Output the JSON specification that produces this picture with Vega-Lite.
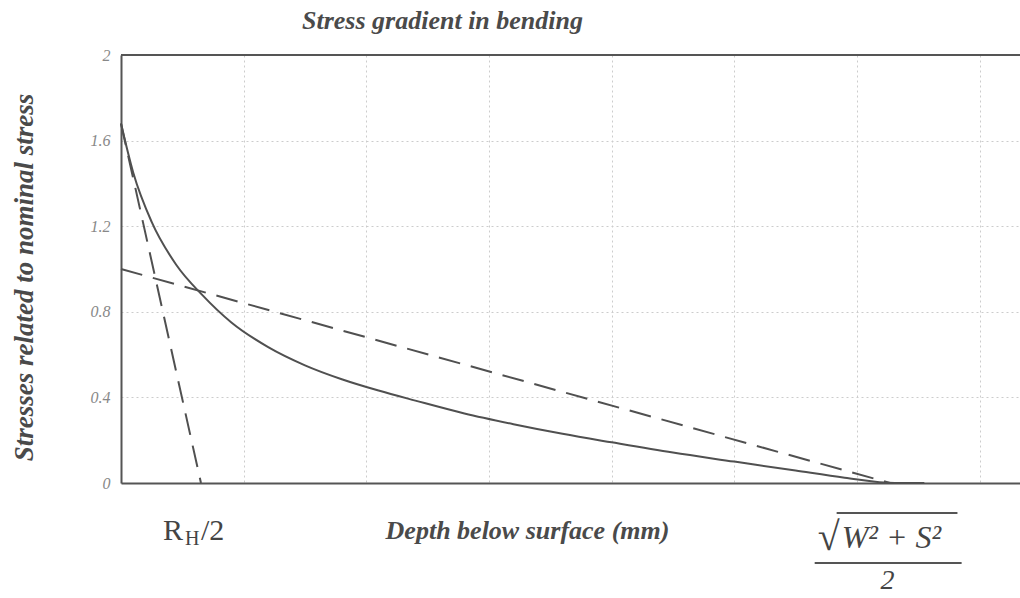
{
  "$schema": "https://vega.github.io/schema/vega-lite/v6.json",
  "width": 899,
  "height": 428,
  "autosize": "none",
  "padding": {"left": 121, "top": 55, "right": 0, "bottom": 115},
  "background": "white",
  "config": {"view": {"stroke": null}, "font": "Liberation Serif"},
  "title": {
    "text": "Stress gradient in bending",
    "anchor": "start",
    "frame": "group",
    "dx": 181,
    "dy": 33,
    "offset": 25,
    "baseline": "alphabetic",
    "font": "Liberation Serif",
    "fontSize": 26,
    "fontStyle": "italic",
    "fontWeight": "bold",
    "color": "#4a4a4a"
  },
  "encoding": {
    "x": {
      "field": "x",
      "type": "quantitative",
      "scale": {"domain": [0, 7.33], "nice": false, "zero": false},
      "axis": {
        "title": "Depth below surface (mm)",
        "values": [0, 1, 2, 3, 4, 5, 6, 7],
        "labels": false,
        "ticks": false,
        "domain": true,
        "domainColor": "#555555",
        "domainWidth": 2,
        "grid": true,
        "gridColor": "#cccccc",
        "gridDash": [2, 3],
        "titleFont": "Liberation Serif",
        "titleFontSize": 26,
        "titleFontStyle": "italic",
        "titleFontWeight": "bold",
        "titleColor": "#4a4a4a",
        "titleX": 406,
        "titleY": 55,
        "titleBaseline": "alphabetic",
        "titleAlign": "center"
      }
    },
    "y": {
      "field": "y",
      "type": "quantitative",
      "scale": {"domain": [0, 2], "nice": false},
      "axis": {
        "title": "Stresses related to nominal stress",
        "values": [0, 0.4, 0.8, 1.2, 1.6, 2],
        "format": ".1~f",
        "ticks": false,
        "labelPadding": 11,
        "labelFont": "Liberation Serif",
        "labelFontSize": 16,
        "labelFontStyle": "italic",
        "labelColor": "#888888",
        "domain": true,
        "domainColor": "#555555",
        "domainWidth": 2,
        "grid": true,
        "gridColor": "#cccccc",
        "gridDash": [2, 3],
        "titleFont": "Liberation Serif",
        "titleFontSize": 27,
        "titleFontStyle": "italic",
        "titleFontWeight": "bold",
        "titleColor": "#4a4a4a",
        "titleX": -89,
        "titleY": 222,
        "titleAngle": 270,
        "titleBaseline": "alphabetic",
        "titleAlign": "center"
      }
    }
  },
  "layer": [
    {
      "data": {"values": [
        {"x": 0, "y": 2, "x2": 7.33},
        {"x": 5.835, "y": -0.14, "x2": 6.82},
        {"x": 5.656, "y": -0.374, "x2": 6.854}
      ]},
      "mark": {"type": "rule", "color": "#555555", "strokeWidth": 2},
      "encoding": {"x2": {"field": "x2"}}
    },
    {
      "data": {"values": [
        {"s": "steep", "x": 0, "y": 1.68},
        {"s": "steep", "x": 0.652, "y": 0},
        {"s": "shallow", "x": 0, "y": 1.0},
        {"s": "shallow", "x": 6.27, "y": 0}
      ]},
      "mark": {"type": "line", "color": "#505050", "strokeWidth": 2, "strokeDash": [22, 11]},
      "encoding": {"detail": {"field": "s"}}
    },
    {
      "data": {"values": [
        {"x": 0, "y": 1.68},
        {"x": 0.1, "y": 1.45},
        {"x": 0.25, "y": 1.22},
        {"x": 0.45, "y": 1.02},
        {"x": 0.66, "y": 0.88},
        {"x": 0.9, "y": 0.75},
        {"x": 1.2, "y": 0.635},
        {"x": 1.5, "y": 0.55},
        {"x": 1.8, "y": 0.485},
        {"x": 2.1, "y": 0.432},
        {"x": 2.4, "y": 0.385},
        {"x": 2.8, "y": 0.325},
        {"x": 3.2, "y": 0.275},
        {"x": 3.6, "y": 0.23},
        {"x": 4.0, "y": 0.19},
        {"x": 4.5, "y": 0.142},
        {"x": 5.0, "y": 0.1},
        {"x": 5.5, "y": 0.058},
        {"x": 5.9, "y": 0.025},
        {"x": 6.31, "y": 0},
        {"x": 6.55, "y": 0}
      ]},
      "mark": {"type": "line", "color": "#505050", "strokeWidth": 2, "interpolate": "monotone"}
    },
    {
      "data": {"values": [{"x": 0.342, "y": -0.266, "t": "R"}, {"x": 0.652, "y": -0.266, "t": "/2"}]},
      "mark": {"type": "text", "align": "left", "baseline": "alphabetic", "font": "Liberation Serif", "fontSize": 30, "color": "#444444"},
      "encoding": {"text": {"field": "t"}}
    },
    {
      "data": {"values": [{"x": 0.522, "y": -0.29, "t": "H"}]},
      "mark": {"type": "text", "align": "left", "baseline": "alphabetic", "font": "Liberation Serif", "fontSize": 20, "color": "#444444"},
      "encoding": {"text": {"field": "t"}}
    },
    {
      "data": {"values": [{"x": 5.68, "y": -0.313, "t": "√"}]},
      "mark": {"type": "text", "align": "left", "baseline": "alphabetic", "font": "Liberation Serif", "fontSize": 40, "color": "#444444"},
      "encoding": {"text": {"field": "t"}}
    },
    {
      "data": {"values": [{"x": 5.876, "y": -0.304, "t": "W² + S²"}]},
      "mark": {"type": "text", "align": "left", "baseline": "alphabetic", "font": "Liberation Serif", "fontSize": 32, "fontStyle": "italic", "color": "#444444"},
      "encoding": {"text": {"field": "t"}}
    },
    {
      "data": {"values": [{"x": 6.25, "y": -0.495, "t": "2"}]},
      "mark": {"type": "text", "align": "center", "baseline": "alphabetic", "font": "Liberation Serif", "fontSize": 28, "fontStyle": "italic", "color": "#444444"},
      "encoding": {"text": {"field": "t"}}
    }
  ]
}
